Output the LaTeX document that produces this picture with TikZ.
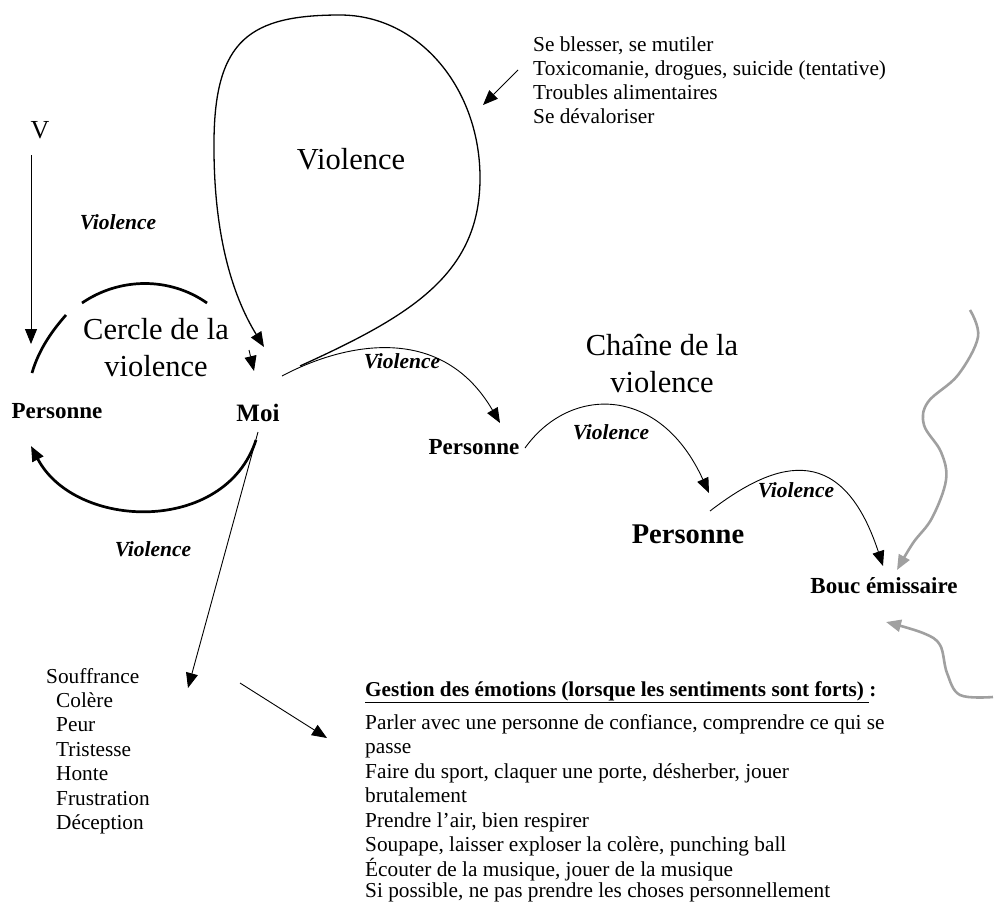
\documentclass[tikz,border=0pt]{standalone}
\usepackage{fontspec}
\setmainfont{Liberation Serif}
\usetikzlibrary{arrows.meta}
\definecolor{grayline}{RGB}{160,160,160}
\begin{document}
\begin{tikzpicture}[x=1pt,y=-1pt,
  txt/.style={inner sep=0pt, anchor=base west, font=\fontsize{21.3}{24}\selectfont},
  big/.style={inner sep=0pt, align=center, font=\fontsize{30.5}{37}\selectfont},
  lbl/.style={inner sep=0pt, font=\fontsize{21.5}{22}\selectfont\bfseries\itshape},
  nm/.style={inner sep=0pt, font=\fontsize{23}{24}\selectfont\bfseries},
  tip/.style={-{Triangle[length=15pt,width=12pt]}},
  thinl/.style={line width=0.9pt},
  heavy/.style={line width=2.7pt},
  grayc/.style={line width=2.6pt, color=grayline, -{Triangle[length=15pt,width=12pt]}}
]
\useasboundingbox (0,0) rectangle (995,903);

% V and its arrow
\node[inner sep=0pt, font=\fontsize{26}{26}\selectfont] (V) at (40,130) {V};
\coordinate (va) at (31,155);
\coordinate (vb) at (31,344);
\draw[thinl,tip] (va) -- (vb);
\node[lbl] (lv1) at (118,222) {Violence};

% Cercle de la violence
\node[big] (cercle) at (156,348) {Cercle de la\\violence};
\node[nm] (p0) at (57,411) {Personne};
\node[nm, font=\fontsize{25}{26}\selectfont\bfseries] (moi) at (258,413) {Moi};
\coordinate (c1a) at (82,303); \coordinate (c1b) at (207,303);
\draw[heavy] (c1a) .. controls (120,277) and (170,277) .. (c1b);
\coordinate (c2a) at (66,315); \coordinate (c2b) at (32,373);
\draw[heavy] (c2a) .. controls (50,333) and (38,352) .. (c2b);
\coordinate (c3a) at (256,440); \coordinate (c3b) at (31,446);
\draw[heavy,tip] (c3a) .. controls (225,535) and (75,530) .. (c3b);
\node[lbl] (lv2) at (153,549) {Violence};

% big self loop
\coordinate (la) at (300,366);
\coordinate (lb) at (264,347);
\draw[line width=1.3pt,tip] (la) .. controls (410,316) and (479,275) .. (480,180)
  .. controls (481,90) and (420,15) .. (340,15)
  .. controls (250,15) and (215,40) .. (214,140)
  .. controls (213,240) and (235,300) .. (lb);
\coordinate (sa) at (249,350);
\coordinate (sb) at (254,371);
\draw[thinl,tip] (sa) -- (sb);
\node[big] (vbig) at (351,159) {Violence};

% list top right
\node[txt] (t1) at (533,51) {Se blesser, se mutiler};
\node[txt] (t2) at (533,75) {Toxicomanie, drogues, suicide (tentative)};
\node[txt] (t3) at (533,99) {Troubles alimentaires};
\node[txt] (t4) at (533,123) {Se dévaloriser};
\coordinate (ta) at (518,70);
\coordinate (tb) at (483,105);
\draw[thinl,tip] (ta) -- (tb);

% chain
\node[big] (chaine) at (662,364) {Chaîne de la\\violence};
\node[nm] (p1) at (474,447) {Personne};
\node[nm, font=\fontsize{28.5}{30}\selectfont\bfseries] (p2) at (688,534) {Personne};
\node[nm] (bouc) at (884,586) {Bouc émissaire};
\coordinate (k1a) at (282,376); \coordinate (k1b) at (500,423);
\draw[thinl,tip] (k1a) .. controls (340,345) and (440,320) .. (k1b);
\node[lbl] (lv3) at (402,361) {Violence};
\coordinate (k2a) at (525,448); \coordinate (k2b) at (709,493);
\draw[thinl,tip] (k2a) .. controls (570,385) and (660,385) .. (k2b);
\node[lbl] (lv4) at (611,432) {Violence};
\coordinate (k3a) at (710,511); \coordinate (k3b) at (883,566);
\draw[thinl,tip] (k3a) .. controls (770,465) and (840,435) .. (k3b);
\node[lbl] (lv5) at (796,490) {Violence};

% gray wavy arrows
\draw[grayc] plot[smooth, tension=0.6] coordinates {(970,310) (978,337) (958,375) (928,402) (924,425) (941,452) (946,480) (932,518) (913,543) (897,570)};
\draw[grayc] plot[smooth, tension=0.6] coordinates {(993,697) (960,695) (947,673) (940,645) (923,633) (886,622)};

% Souffrance
\coordinate (ma) at (258,432);
\coordinate (mb) at (188,688);
\draw[thinl,tip] (ma) -- (mb);
\node[txt] (s0) at (46,683) {Souffrance};
\node[txt] (s1) at (56,707) {Colère};
\node[txt] (s2) at (56,731) {Peur};
\node[txt] (s3) at (56,756) {Tristesse};
\node[txt] (s4) at (56,780) {Honte};
\node[txt] (s5) at (56,805) {Frustration};
\node[txt] (s6) at (56,829) {Déception};
\coordinate (ga) at (240,683);
\coordinate (gb) at (327,738);
\draw[thinl,tip] (ga) -- (gb);

% Gestion
\node[txt, font=\fontsize{21.2}{24}\selectfont\bfseries] (g0) at (365,696) {\underline{Gestion des émotions (lorsque les sentiments sont forts)\ }:};
\node[txt] (g1) at (365,729) {Parler avec une personne de confiance, comprendre ce qui se};
\node[txt] (g2) at (365,753.5) {passe};
\node[txt] (g3) at (365,778) {Faire du sport, claquer une porte, désherber, jouer};
\node[txt] (g4) at (365,802.5) {brutalement};
\node[txt] (g5) at (365,827) {Prendre l’air, bien respirer};
\node[txt] (g6) at (365,851.5) {Soupape, laisser exploser la colère, punching ball};
\node[txt] (g7) at (365,876) {Écouter de la musique, jouer de la musique};
\node[txt] (g8) at (365,897.5) {Si possible, ne pas prendre les choses personnellement};
\end{tikzpicture}
\end{document}
